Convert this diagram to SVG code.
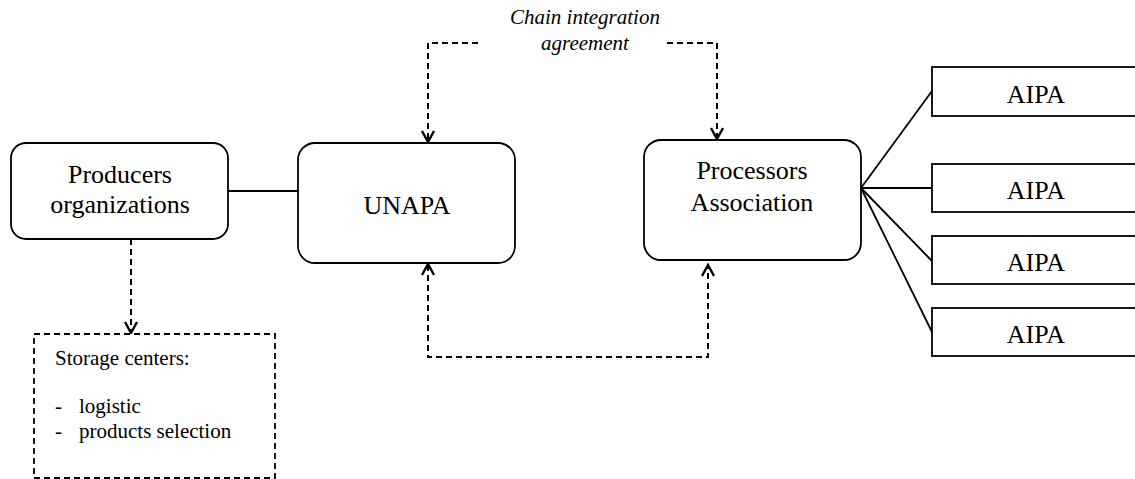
<svg xmlns="http://www.w3.org/2000/svg" width="1135" height="479" viewBox="0 0 1135 479">
<style>
.box{fill:#fff;stroke:#000;stroke-width:1.8}
.dbox{fill:#fff;stroke:#000;stroke-width:1.8;stroke-dasharray:6 4}
.solid{fill:none;stroke:#000;stroke-width:1.8}
.dash{fill:none;stroke:#000;stroke-width:2;stroke-dasharray:6 4}
.head{fill:none;stroke:#000;stroke-width:2.4}
</style>
<rect width="1135" height="479" fill="#fff"/>
<g id="connectors">
<path class="solid" d="M228,191 H298"/>
<path class="solid" d="M861,188 L932,91"/>
<path class="solid" d="M861,188 L932,188"/>
<path class="solid" d="M861,188 L932,261"/>
<path class="solid" d="M861,188 L932,332"/>
<path class="dash" d="M478,43 H428 V141"/>
<path class="head" d="M422,131 L428,142 L434,131"/>
<path class="dash" d="M667,43 H717 V138"/>
<path class="head" d="M711,128 L717,139 L723,128"/>
<path class="dash" d="M428,265 V357 H708 V266"/>
<path class="head" d="M422,275 L428,264 L434,275"/>
<path class="head" d="M702,276 L708,265 L714,276"/>
<path class="dash" d="M131,239 V332"/>
<path class="head" d="M125,322 L131,333 L137,322"/>
</g>
<g id="label-chain" font-family="Liberation Serif, serif" font-size="21" font-style="italic" text-anchor="middle">
<text x="585" y="24">Chain integration</text>
<text x="585" y="50">agreement</text>
</g>
<g id="producers" font-family="Liberation Serif, serif" font-size="26" text-anchor="middle">
<rect class="box" x="11" y="143" width="217" height="96" rx="15"/>
<text x="120" y="183">Producers</text>
<text x="120" y="213">organizations</text>
</g>
<g id="unapa" font-family="Liberation Serif, serif" font-size="26" text-anchor="middle">
<rect class="box" x="298" y="143" width="217" height="120" rx="17"/>
<text x="407" y="214">UNAPA</text>
</g>
<g id="processors" font-family="Liberation Serif, serif" font-size="26" text-anchor="middle">
<rect class="box" x="644" y="140" width="217" height="120" rx="17"/>
<text x="752" y="179">Processors</text>
<text x="752" y="211">Association</text>
</g>
<g id="aipa1" font-family="Liberation Serif, serif" font-size="26" text-anchor="middle">
<rect class="box" x="932" y="67" width="210" height="49"/>
<text x="1036" y="103">AIPA</text>
</g>
<g id="aipa2" font-family="Liberation Serif, serif" font-size="26" text-anchor="middle">
<rect class="box" x="932" y="164" width="210" height="48"/>
<text x="1036" y="199">AIPA</text>
</g>
<g id="aipa3" font-family="Liberation Serif, serif" font-size="26" text-anchor="middle">
<rect class="box" x="932" y="236" width="210" height="48"/>
<text x="1036" y="271">AIPA</text>
</g>
<g id="aipa4" font-family="Liberation Serif, serif" font-size="26" text-anchor="middle">
<rect class="box" x="932" y="308" width="210" height="48"/>
<text x="1036" y="343">AIPA</text>
</g>
<g id="storage" font-family="Liberation Serif, serif" font-size="21">
<rect class="dbox" x="34" y="334" width="241" height="144"/>
<text x="55" y="365">Storage centers:</text>
<text x="55" y="413">-</text>
<text x="79" y="413">logistic</text>
<text x="55" y="438">-</text>
<text x="79" y="438">products selection</text>
</g>
</svg>
